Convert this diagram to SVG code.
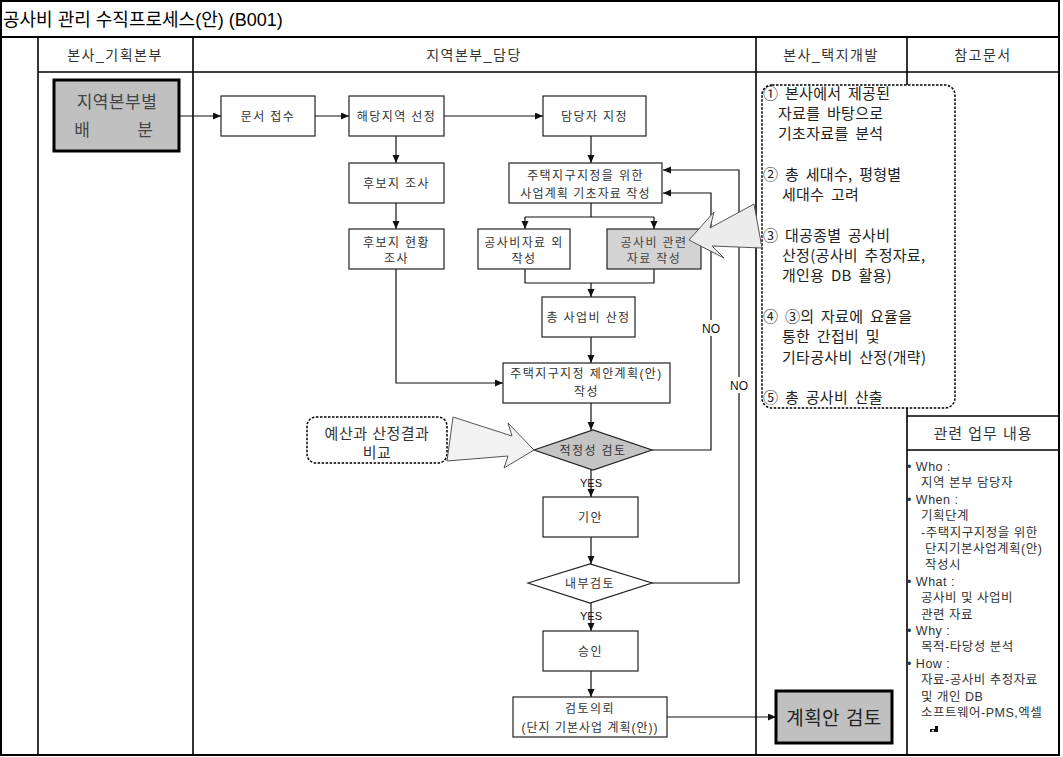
<svg xmlns="http://www.w3.org/2000/svg" width="1063" height="757" viewBox="0 0 1063 757">
<style>
text{font-family:"Liberation Sans","Noto Sans CJK KR",sans-serif;fill:#333}
.lane{stroke:#000;stroke-width:1.6;fill:none}
.outer{stroke:#000;stroke-width:2;fill:none}
.hdr{font-size:14px;letter-spacing:1.5px;text-anchor:middle}
.box{fill:#fff;stroke:#222;stroke-width:1.2}
.gbox{fill:#d3d3d3;stroke:#222;stroke-width:1.2}
.big{fill:#c0c0c0;stroke:#000;stroke-width:3}
.t{font-size:12px;letter-spacing:1.4px;text-anchor:middle}
.c{stroke:#111;stroke-width:1.2;fill:none}
.ca{stroke:#111;stroke-width:1.2;fill:none;marker-end:url(#ah)}
.lbl{font-size:11px;text-anchor:middle;fill:#111}
.dash{fill:#fff;stroke:#000;stroke-width:1.5;stroke-dasharray:2.5 1.5}
.note{font-family:"Noto Sans CJK KR","Liberation Sans",sans-serif;font-size:15px;letter-spacing:0.3px;word-spacing:3px;fill:#222}
.ref{font-size:12.5px;letter-spacing:0.5px;fill:#333}
</style>
<defs>
<marker id="ah" markerWidth="9" markerHeight="8" refX="8" refY="3.5" orient="auto" markerUnits="userSpaceOnUse">
<path d="M0,0 L8,3.5 L0,7 z" fill="#111"/>
</marker>
</defs>
<rect width="1063" height="757" fill="#fff"/>

<g id="frame">
<rect x="1" y="1" width="1058" height="754" class="outer"/>
<line x1="1" y1="37" x2="1059" y2="37" class="outer"/>
<line x1="38" y1="72" x2="1059" y2="72" class="lane"/>
<line x1="38" y1="37" x2="38" y2="755" class="lane"/>
<line x1="193" y1="37" x2="193" y2="755" class="lane"/>
<line x1="756" y1="37" x2="756" y2="755" class="lane"/>
<line x1="907" y1="37" x2="907" y2="755" class="lane"/>
<text x="3" y="26" style="font-size:18px;fill:#000">공사비 관리 수직프로세스(안) (B001)</text>
<text x="115" y="60" class="hdr">본사_기획본부</text>
<text x="474" y="60" class="hdr">지역본부_담당</text>
<text x="831" y="60" class="hdr">본사_택지개발</text>
<text x="983" y="60" class="hdr">참고문서</text>
</g>

<g id="connectors">
<path d="M180,116 H221" class="ca"/>
<path d="M315,116 H349" class="ca"/>
<path d="M444,116 H543" class="ca"/>
<path d="M396,136 V163" class="ca"/>
<path d="M396,203 V229" class="ca"/>
<path d="M591,136 V163" class="ca"/>
<path d="M591,203 V217 M525,217 H654" class="c"/>
<path d="M525,217 V229" class="ca"/>
<path d="M654,217 V229" class="ca"/>
<path d="M525,269 V283 H654 V269" class="c"/>
<path d="M591,283 V297" class="ca"/>
<path d="M591,337 V363" class="ca"/>
<path d="M396,269 V383 H503" class="ca"/>
<path d="M591,403 V430" class="ca"/>
<path d="M652,450 H711 V193 H663" class="ca"/>
<path d="M591,470 V497" class="ca"/>
<path d="M591,537 V564" class="ca"/>
<path d="M652,583 H739 V170 H663" class="ca"/>
<path d="M591,603 V631" class="ca"/>
<path d="M591,671 V697" class="ca"/>
<path d="M667,717 H776" class="ca"/>
<rect x="700" y="320" width="22" height="16" fill="#fff"/>
<text x="711" y="333" class="lbl" style="font-size:12px">NO</text>
<rect x="728" y="377" width="22" height="16" fill="#fff"/>
<text x="739" y="390" class="lbl" style="font-size:12px">NO</text>
<text x="591" y="487" class="lbl">YES</text>
<text x="591" y="620" class="lbl">YES</text>
</g>

<g id="n-start">
<rect x="54" y="80" width="125" height="71" class="big"/>
<text x="117" y="108" style="font-size:17px;letter-spacing:0.5px;text-anchor:middle;fill:#444">지역본부별</text>
<text y="136" style="font-size:17px;text-anchor:middle;fill:#444"><tspan x="82">배</tspan><tspan x="145">분</tspan></text>
</g>
<g id="n-receive"><rect x="221" y="96" width="94" height="40" class="box"/><text x="268" y="120.5" class="t">문서 접수</text></g>
<g id="n-select"><rect x="349" y="96" width="95" height="40" class="box"/><text x="396.5" y="120.5" class="t">해당지역 선정</text></g>
<g id="n-assign"><rect x="543" y="96" width="103" height="40" class="box"/><text x="594.5" y="120.5" class="t">담당자 지정</text></g>
<g id="n-survey"><rect x="349" y="163" width="95" height="40" class="box"/><text x="396.5" y="187.5" class="t">후보지 조사</text></g>
<g id="n-status"><rect x="349" y="229" width="95" height="40" class="box"/><text x="396.5" y="246.5" class="t">후보지 현황</text><text x="396.5" y="263" class="t">조사</text></g>
<g id="n-basic"><rect x="509" y="163" width="153" height="40" class="box"/><text x="585.5" y="179.5" class="t">주택지구지정을 위한</text><text x="585.5" y="197.5" class="t" style="letter-spacing:1.1px">사업계획 기초자료 작성</text></g>
<g id="n-other"><rect x="478" y="229" width="92" height="40" class="box"/><text x="524" y="246.5" class="t">공사비자료 외</text><text x="524" y="263" class="t">작성</text></g>
<g id="n-cost"><rect x="607" y="229" width="94" height="40" class="gbox"/><text x="654" y="246.5" class="t" style="fill:#444">공사비 관련</text><text x="654" y="263" class="t" style="fill:#444">자료 작성</text></g>
<g id="n-total"><rect x="542" y="297" width="93" height="40" class="box"/><text x="588.5" y="321.5" class="t">총 사업비 산정</text></g>
<g id="n-proposal"><rect x="503" y="363" width="167" height="40" class="box"/><text x="586.5" y="377.5" class="t">주택지구지정 제안계획(안)</text><text x="586.5" y="396" class="t">작성</text></g>
<g id="n-check"><polygon points="534,450 593,430 652,450 593,470" fill="#c4c4c4" stroke="#222" stroke-width="1.2"/><text x="593" y="454.5" class="t">적정성 검토</text></g>
<g id="n-draft"><rect x="543" y="497" width="95" height="40" class="box"/><text x="590.5" y="521.5" class="t">기안</text></g>
<g id="n-review"><polygon points="528,583 590,564 652,583 590,603" fill="#fff" stroke="#222" stroke-width="1.2"/><text x="590" y="587.5" class="t">내부검토</text></g>
<g id="n-approve"><rect x="543" y="631" width="95" height="40" class="box"/><text x="590.5" y="655.5" class="t">승인</text></g>
<g id="n-request"><rect x="513" y="697" width="154" height="40" class="box"/><text x="590" y="712.5" class="t">검토의뢰</text><text x="590" y="732" class="t" style="letter-spacing:1px">(단지 기본사업 계획(안))</text></g>
<g id="n-plan"><rect x="776" y="691" width="116" height="52" class="big"/><text x="834" y="724.5" style="font-size:19px;letter-spacing:0.5px;text-anchor:middle;fill:#222">계획안 검토</text></g>

<g id="n-note">
<rect x="762" y="85" width="193" height="323" rx="10" class="dash"/>
<text class="note" x="763" y="98.5">① 본사에서 제공된</text>
<text class="note" x="778" y="118.8">자료를 바탕으로</text>
<text class="note" x="778" y="139">기초자료를 분석</text>
<text class="note" x="763" y="179.7">② 총 세대수, 평형별</text>
<text class="note" x="782" y="200">세대수 고려</text>
<text class="note" x="763" y="240.6">③ 대공종별 공사비</text>
<text class="note" x="782" y="261">산정(공사비 추정자료,</text>
<text class="note" x="782" y="281.3">개인용 DB 활용)</text>
<text class="note" x="763" y="321.9">④ ③의 자료에 요율을</text>
<text class="note" x="782" y="342.2">통한 간접비 및</text>
<text class="note" x="782" y="362.5">기타공사비 산정(개략)</text>
<text class="note" x="763" y="403">⑤ 총 공사비 산출</text>
</g>
<g id="n-callout1">
<polygon points="689,240 714,212 710,228 754,204 762,248 712,246 724,258" fill="#ececec" stroke="#555" stroke-width="1"/>
</g>

<g id="n-budget">
<rect x="307" y="417" width="140" height="46" rx="9" class="dash"/>
<text x="377" y="438.5" style="font-size:15px;letter-spacing:0.5px;text-anchor:middle;fill:#333">예산과 산정결과</text>
<text x="377" y="457.5" style="font-size:15px;letter-spacing:0.5px;text-anchor:middle;fill:#333">비교</text>
</g>
<g id="n-callout2">
<path d="M453,417 L512,436 L508,423 L534,450 L504,468 L508,456 L447,461 Z" fill="#f2f2f2" stroke="#555" stroke-width="1"/>
</g>

<g id="n-ref">
<line x1="907" y1="416" x2="1058" y2="416" class="lane"/>
<line x1="907" y1="450" x2="1058" y2="450" class="lane"/>
<text x="983" y="438.5" style="font-size:15px;letter-spacing:1px;text-anchor:middle;fill:#333">관련 업무 내용</text>
<text class="ref" x="907" y="471">• Who :</text>
<text class="ref" x="921" y="487.4">지역 본부 담당자</text>
<text class="ref" x="907" y="503.8">• When :</text>
<text class="ref" x="921" y="520.2">기획단계</text>
<text class="ref" x="921" y="536.6">-주택지구지정을 위한</text>
<text class="ref" x="925" y="553">단지기본사업계획(안)</text>
<text class="ref" x="925" y="569.4">작성시</text>
<text class="ref" x="907" y="585.8">• What :</text>
<text class="ref" x="921" y="602.2">공사비 및 사업비</text>
<text class="ref" x="921" y="618.6">관련 자료</text>
<text class="ref" x="907" y="635">• Why :</text>
<text class="ref" x="921" y="651.4">목적-타당성 분석</text>
<text class="ref" x="907" y="667.8">• How :</text>
<text class="ref" x="921" y="684.2">자료-공사비 추정자료</text>
<text class="ref" x="921" y="700.6">및 개인 DB</text>
<text class="ref" x="921" y="717">소프트웨어-PMS,엑셀</text>
<path d="M930,729 h5 v-3 h3 v6 h-8 z" fill="#111"/>
<rect x="932" y="730" width="2" height="1.5" fill="#fff"/>
</g>
</svg>
